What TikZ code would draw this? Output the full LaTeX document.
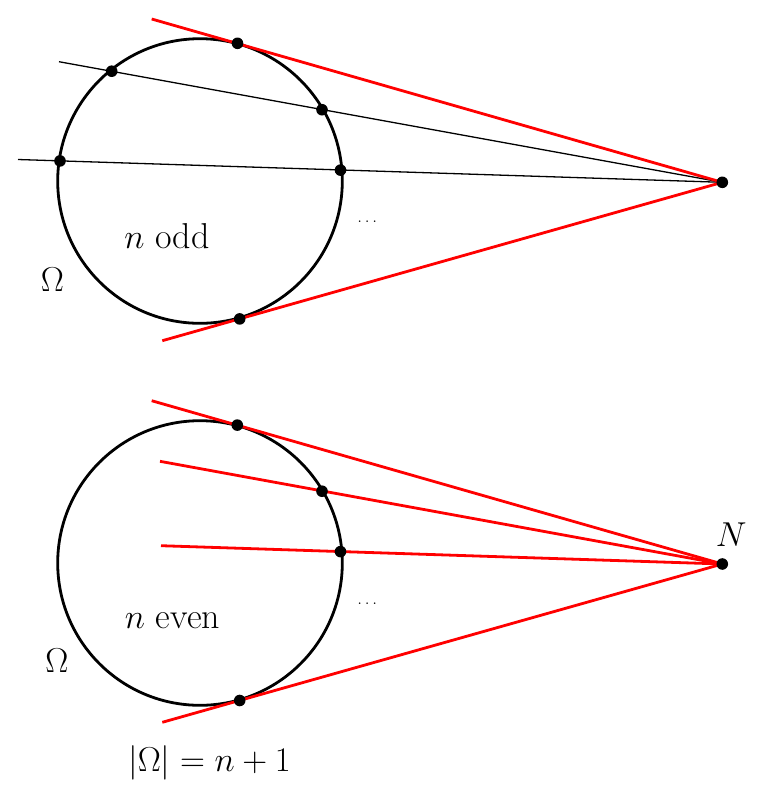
\documentclass[tikz,border=0pt]{standalone}
\usetikzlibrary{calc}
\begin{document}
\begin{tikzpicture}[x=0.5pt,y=-0.5pt,
  circ/.style={circle,draw=black,line width=1.4pt,minimum size=142.3pt,inner sep=0pt,outer sep=0pt},
  redln/.style={draw=red,line width=1.4pt},
  blkln/.style={draw=black,line width=0.65pt},
  dot/.style={circle,fill=black,inner sep=0pt,minimum size=5.8pt},
  lbl/.style={font=\fontsize{18}{22}\selectfont,inner sep=0pt},
  ell/.style={font=\fontsize{7}{8}\selectfont,inner sep=0pt}]
\path[use as bounding box] (0,0) rectangle (765,800);
\fill[white] (0,0) rectangle (765,800);

% ---------- top figure ----------
\coordinate (N1) at (722.3,182.3);
\coordinate (a1) at (151.7,19);
\coordinate (a2) at (59,61.7);
\coordinate (a3) at (18,159.5);
\coordinate (a4) at (162.3,340.7);
\node[circ] (C1) at (200,181) {};
\draw[blkln] (a2) -- (N1);
\draw[blkln] (a3) -- (N1);
\draw[redln] (a1) -- (N1);
\draw[redln] (a4) -- (N1);
\node[dot] (p1) at (237.5,43.3) {};
\node[dot] (p2) at (111.7,71.2) {};
\node[dot] (p3) at (322,109.7) {};
\node[dot] (p4) at (60,160.9) {};
\node[dot] (p5) at (340.5,170.1) {};
\node[dot] (p6) at (239.7,318.9) {};
\node[dot] (n1) at (N1) {};
\node[ell] (e1) at (367.3,221.7) {$\ldots$};
\node[lbl] (t1) at (167,236) {$n$ odd};
\node[lbl] (o1) at (52.5,280) {$\Omega$};

% ---------- bottom figure ----------
\coordinate (N2) at (722.3,564);
\coordinate (b1) at (151.7,400.7);
\coordinate (b2) at (160,461.3);
\coordinate (b3) at (161,545.7);
\coordinate (b4) at (162.3,722.3);
\node[circ] (C2) at (200,563) {};
\draw[redln] (b1) -- (N2);
\draw[redln] (b2) -- (N2);
\draw[redln] (b3) -- (N2);
\draw[redln] (b4) -- (N2);
\node[dot] (q1) at (237.3,425.1) {};
\node[dot] (q2) at (322,491.2) {};
\node[dot] (q3) at (340.5,551.6) {};
\node[dot] (q4) at (239.7,700.5) {};
\node[dot] (n2) at (N2) {};
\node[lbl] (nl) at (731.3,534.7) {$N$};
\node[ell] (e2) at (367.3,604) {$\ldots$};
\node[lbl] (t2) at (172.5,621) {$n$ even};
\node[lbl] (o2) at (56.8,661) {$\Omega$};
\node[lbl] (f) at (209.5,762.5) {$|\Omega|=n+1$};
\end{tikzpicture}
\end{document}
